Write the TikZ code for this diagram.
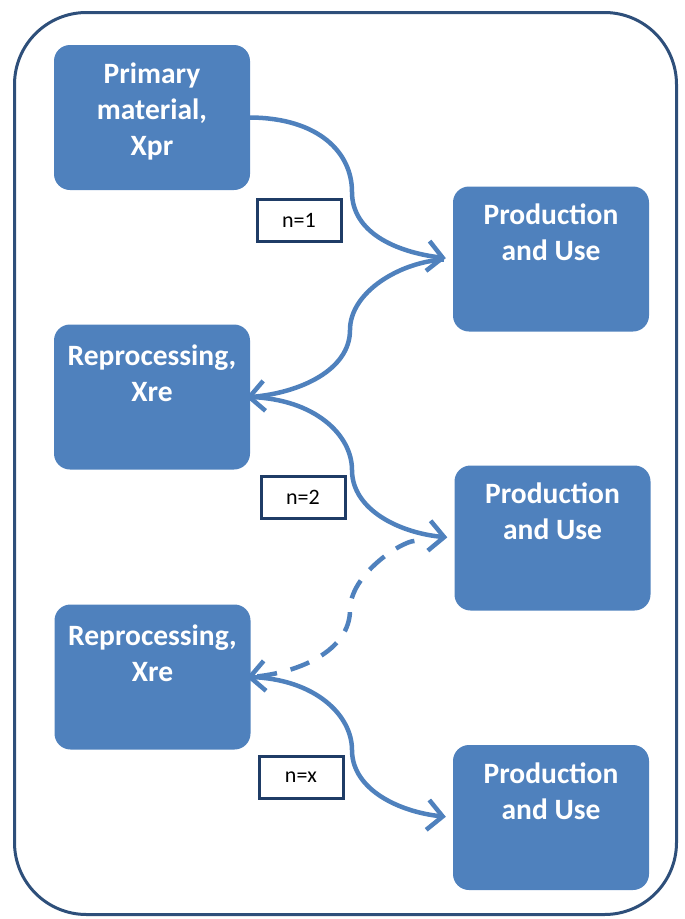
\documentclass[tikz,border=0pt]{standalone}
\usepackage{fontspec}
\setmainfont{Carlito}
\usetikzlibrary{arrows.meta,positioning}
\definecolor{boxblue}{HTML}{4F81BD}
\definecolor{framedark}{HTML}{2E4F7A}
\definecolor{labeldark}{HTML}{1F3C66}
\tikzset{
  blockbox/.style={fill=boxblue, draw=none, rounded corners=16pt, minimum width=196pt, minimum height=145pt, inner sep=0pt},
  blocktext/.style={text=white, font=\fontsize{29.5}{36}\selectfont\bfseries, align=center, anchor=north, inner sep=0pt},
  countbox/.style={draw=labeldark, line width=3pt, fill=white, minimum width=84pt, minimum height=42pt, inner sep=0pt, font=\fontsize{22}{24}\selectfont},
  flow/.style={draw=boxblue, line width=4.5pt, -{Straight Barb[length=15pt,width=30pt]}},
}
\begin{document}
\begin{tikzpicture}[x=1pt,y=-1pt]
\useasboundingbox (0,0) rectangle (685,919);
\node[draw=framedark, line width=3pt, rounded corners=72pt, minimum width=662pt, minimum height=902pt, inner sep=0pt] (frame) at (345.5,463.5) {};
% boxes
\node[blockbox] (prim) at (152,117.5) {};
\node[blocktext] (primt) at (152,63) {Primary\\material,\\Xpr};
\node[blockbox] (pu1) at (551,259) {};
\node[blocktext] (pu1t) at (551,204) {Production\\and Use};
\node[blockbox] (re1) at (152,397) {};
\node[blocktext] (re1t) at (152,345) {Reprocessing,\\Xre};
\node[blockbox] (pu2) at (552.5,538) {};
\node[blocktext] (pu2t) at (552.5,483) {Production\\and Use};
\node[blockbox] (re2) at (152.5,677) {};
\node[blocktext] (re2t) at (152.5,625) {Reprocessing,\\Xre};
\node[blockbox] (pu3) at (551,817.5) {};
\node[blocktext] (pu3t) at (551,763) {Production\\and Use};
% count labels
\node[countbox] (n1) at (299,220) {n=1};
\node[countbox] (n2) at (303,497.5) {n=2};
\node[countbox] (nx) at (301,777) {n=x};
% bend points
\coordinate (c1) at (352,192);
\coordinate (c2) at (350,330);
\coordinate (c3) at (352,470);
\coordinate (c4) at (350,610);
\coordinate (c5) at (352,750);
% connectors
\draw[flow, shorten >=7pt] (prim.east) .. controls (318,118) and (352,152) .. (c1) .. controls (352,232) and (395,252) .. (pu1.west);
\draw[flow, shorten <=9pt, shorten >=-4pt] (pu1.west) .. controls (400,262) and (350,292) .. (c2) .. controls (350,370) and (300,393) .. (re1.east);
\draw[flow, shorten >=7pt] (re1.east) .. controls (315,399) and (352,435) .. (c3) .. controls (352,510) and (400,533) .. (pu2.west);
\draw[flow, dash pattern=on 20pt off 14pt, shorten <=40pt, shorten >=-4pt] (pu2.west) .. controls (400,542) and (350,575) .. (c4) .. controls (350,650) and (300,673) .. (re2.east);
\draw[flow, shorten >=7pt] (re2.east) .. controls (315,679) and (352,715) .. (c5) .. controls (352,790) and (400,812) .. (pu3.west);
\end{tikzpicture}
\end{document}
